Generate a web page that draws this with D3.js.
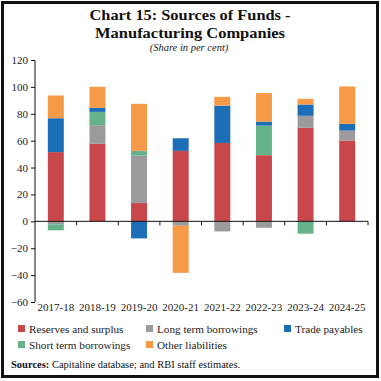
<!DOCTYPE html>
<html><head><meta charset="utf-8">
<script src="https://cdn.jsdelivr.net/npm/d3@7"></script>
<style>
body{margin:0;background:#fff;}
svg{display:block;}
</style></head>
<body>
<svg id="c" width="381" height="381"></svg>
<script>
const categories = ["2017-18","2018-19","2019-20","2020-21","2021-22","2022-23","2023-24","2024-25"];
const seriesNames = ["Reserves and surplus","Long term borrowings","Short term borrowings","Trade payables","Other liabilities"];
const reserves  = [51.5, 57.8, 13.6, 52.4, 58.3, 49.2, 69.7, 60.1];
const longTerm  = [-2.2, 13.7, 35.3, -3.3, -7.5, -4.8, 8.8, 7.4];
const shortTerm = [-4.5, 9.9, 3.5, 0, 0, 22.0, -9.2, 0];
const tradePay  = [25.2, 3.0, -12.7, 9.4, 27.8, 3.0, 8.4, 5.0];
const otherLiab = [16.9, 15.7, 35.0, -35.0, 6.5, 21.2, 4.2, 27.8];
const yTicks = [-60,-40,-20,0,20,40,60,80,100,120];
const colors = ["#C8474A","#9B9B9B","#66B38B","#1C6EB6","#F69A47"];

const seriesArrays = [reserves, longTerm, shortTerm, tradePay, otherLiab];
const rows = categories.map((c,i)=>{
  const r = {cat:c};
  seriesNames.forEach((s,j)=>r[s]=seriesArrays[j][i]);
  return r;
});

const svg = d3.select("#c");
const font = "'Liberation Serif', serif";

// frame
svg.append("rect").attr("x",2.5).attr("y",2.5).attr("width",375).attr("height",374)
  .attr("fill","none").attr("stroke","#111").attr("stroke-width",3);

// title
svg.append("text").attr("x",190).attr("y",20).attr("text-anchor","middle")
  .attr("font-family",font).attr("font-weight","bold").attr("font-size",15.5).attr("fill","#111")
  .attr("textLength",201).attr("lengthAdjust","spacingAndGlyphs")
  .text("Chart 15: Sources of Funds -");
svg.append("text").attr("x",190).attr("y",38).attr("text-anchor","middle")
  .attr("font-family",font).attr("font-weight","bold").attr("font-size",15.5).attr("fill","#111")
  .attr("textLength",190).attr("lengthAdjust","spacingAndGlyphs")
  .text("Manufacturing Companies");
svg.append("text").attr("x",189).attr("y",50.5).attr("text-anchor","middle")
  .attr("font-family",font).attr("font-style","italic").attr("font-size",10.5).attr("fill","#222")
  .text("(Share in per cent)");

const x = d3.scaleBand().domain(categories).range([35,368]).paddingInner(0.616).paddingOuter(0.308);
const y = d3.scaleLinear().domain([-60,120]).range([302,60]);
const step = x.step();

const stack = d3.stack().keys(seriesNames).offset(d3.stackOffsetDiverging);
const stacked = stack(rows);

svg.append("g").selectAll("g").data(stacked).join("g")
  .attr("fill",(d,i)=>colors[i])
  .selectAll("rect").data(d=>d).join("rect")
  .attr("x",d=>x(d.data.cat))
  .attr("width",x.bandwidth())
  .attr("y",d=>y(Math.max(d[0],d[1])))
  .attr("height",d=>Math.abs(y(d[0])-y(d[1])));

// y axis
const yAxis = d3.axisLeft(y).tickValues(yTicks).tickSize(4).tickPadding(3);
const gy = svg.append("g").attr("transform","translate(35,0)").call(yAxis);
gy.select(".domain").attr("stroke","#111").attr("d","M-0,60.5V302");
gy.selectAll(".tick line").attr("stroke","#111");
gy.selectAll(".tick text").attr("font-family",font).attr("font-size",11).attr("fill","#222");

// x axis at zero
const xAxis = d3.axisBottom(x).tickSize(0).tickPadding(0);
const gx = svg.append("g").attr("transform",`translate(0,${y(0)})`).call(xAxis);
gx.select(".domain").attr("stroke","#111").attr("d","M35,0H368");
gx.selectAll(".tick text").remove();
// boundary ticks
const bounds = categories.map(c=>x(c)+x.bandwidth()+step*x.paddingInner()/2);
gx.selectAll("line.bt").data(bounds).join("line").attr("class","bt")
  .attr("x1",d=>d).attr("x2",d=>d).attr("y1",0).attr("y2",4).attr("stroke","#111");

// x labels at bottom
svg.append("g").selectAll("text").data(categories).join("text")
  .attr("x",d=>x(d)+x.bandwidth()/2).attr("y",311).attr("text-anchor","middle")
  .attr("font-family",font).attr("font-size",11).attr("fill","#222")
  .text(d=>d);

// legend
const legendPos = [[18,329],[146,329],[284,329],[18,345],[146,345]];
const legendOrder = [0,1,3,2,4];
const lg = svg.append("g");
legendOrder.forEach((si,k)=>{
  const [lx,ly] = legendPos[k];
  lg.append("rect").attr("x",lx).attr("y",ly-4).attr("width",7).attr("height",7).attr("fill",colors[si]);
  lg.append("text").attr("x",lx+11).attr("y",ly+3.5).attr("font-family",font).attr("font-size",11.2)
    .attr("fill","#222").text(seriesNames[si]);
});

// source
const st = svg.append("text").attr("x",11).attr("y",368).attr("font-family",font).attr("font-size",10.5).attr("fill","#111");
st.append("tspan").attr("font-weight","bold").text("Sources:");
st.append("tspan").text(" Capitaline database; and RBI staff estimates.");
</script>
</body></html>
